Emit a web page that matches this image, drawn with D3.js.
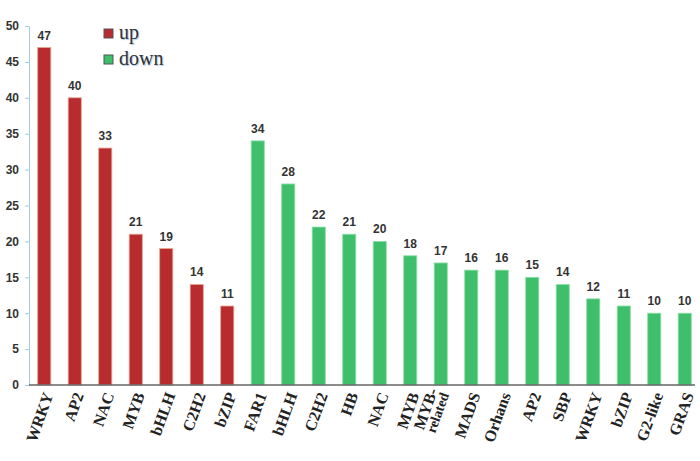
<!DOCTYPE html>
<meta charset="utf-8">
<head>
<script src="https://d3js.org/d3.v7.min.js"></script>
<style>
  body { margin: 0; background: #fff; }
</style>
</head>
<body>
<div id="tf_graph"></div>
<script>
// data
var upNames = ["WRKY", "AP2", "NAC", "MYB", "bHLH", "C2H2", "bZIP"];
var upValues = [47, 40, 33, 21, 19, 14, 11];
var downNames = ["FAR1", "bHLH", "C2H2", "HB", "NAC", "MYB", "MYB-related", "MADS", "Orhans", "AP2", "SBP", "WRKY", "bZIP", "G2-like", "GRAS"];
var downValues = [34, 28, 22, 21, 20, 18, 17, 16, 16, 15, 14, 12, 11, 10, 10];
var yTicks = [0, 5, 10, 15, 20, 25, 30, 35, 40, 45, 50];

var colors = {up: "#b82c2f", down: "#3fbf6c"};

var data = upNames.map(function(n, i) { return {id: "u" + i, name: n, value: upValues[i], group: "up"}; })
  .concat(downNames.map(function(n, i) { return {id: "d" + i, name: n, value: downValues[i], group: "down"}; }));

var width = 700, height = 461;

var svg = d3.select("#tf_graph")
  .append("svg")
    .attr("width", width)
    .attr("height", height);

var x = d3.scaleBand()
  .domain(data.map(function(d) { return d.id; }))
  .range([29, 700])
  .paddingInner(0.57)
  .paddingOuter(0.285);

var y = d3.scaleLinear()
  .domain([0, 50])
  .range([385, 26]);

// Y axis
var yAxis = svg.append("g")
  .attr("transform", "translate(29,0)")
  .call(d3.axisLeft(y).tickValues(yTicks).tickSize(4).tickSizeOuter(0));
yAxis.select(".domain").attr("stroke", "#a9c8e6");
yAxis.selectAll(".tick line").attr("stroke", "#a9c8e6");
yAxis.selectAll("text")
  .attr("x", -10)
  .style("font-family", "Arial, 'Liberation Sans', sans-serif")
  .style("font-weight", "bold")
  .style("font-size", "12px")
  .attr("fill", "#333");

// Bars
svg.selectAll(".bar")
  .data(data)
  .enter()
  .append("rect")
    .attr("x", function(d) { return x(d.id); })
    .attr("y", function(d) { return y(d.value); })
    .attr("width", x.bandwidth())
    .attr("height", function(d) { return y(0) - y(d.value); })
    .attr("fill", function(d) { return colors[d.group]; })
    .attr("stroke", function(d) { return d.group == "up" ? "#eaa58c" : "#8fe0a8"; })
    .attr("stroke-width", 0.8);

// value labels
svg.selectAll(".val")
  .data(data)
  .enter()
  .append("text")
    .attr("x", function(d) { return x(d.id) + x.bandwidth() / 2; })
    .attr("y", function(d) { return y(d.value) - 8; })
    .attr("text-anchor", "middle")
    .style("font-family", "Arial, 'Liberation Sans', sans-serif")
    .style("font-weight", "bold")
    .style("font-size", "12px")
    .attr("fill", "#333")
    .text(function(d) { return d.value; });

// X baseline
svg.append("line")
  .attr("x1", 29).attr("x2", 695)
  .attr("y1", y(0)).attr("y2", y(0))
  .attr("stroke", "#666")
  .attr("stroke-width", 1.5);

// X labels, rotated
var xl = svg.selectAll(".xl")
  .data(data)
  .enter()
  .append("text")
    .attr("transform", function(d) {
      return "translate(" + (x(d.id) + x.bandwidth() / 2 + 4) + "," + (y(0) + 8) + ")rotate(-70)";
    })
    .attr("text-anchor", "end")
    .style("font-family", "'Liberation Serif', 'Times New Roman', serif")
    .style("font-weight", "bold")
    .style("font-size", "16px")
    .attr("fill", "#222");
xl.each(function(d) {
  var t = d3.select(this);
  if (d.name == "MYB-related") {
    t.append("tspan").attr("x", 0).attr("dy", "-0.45em").text("MYB-");
    t.append("tspan").attr("x", 0).attr("dy", "0.85em").style("font-size", "14px").text("related");
  } else {
    t.attr("dy", "0.35em").text(d.name);
  }
});

// legend
var legend = svg.append("g");
[["up", 33], ["down", 59]].forEach(function(l) {
  legend.append("rect")
    .attr("x", 104).attr("y", l[1] - 4)
    .attr("width", 9).attr("height", 9)
    .attr("fill", colors[l[0]])
    .attr("stroke", "#555")
    .attr("stroke-width", 1);
  legend.append("text")
    .attr("x", 119).attr("y", l[1] + 6)
    .style("font-family", "'Liberation Serif', 'Times New Roman', serif")
    .style("font-size", "20px")
    .attr("fill", "#333")
    .style("text-shadow", "1px 1px 1px #a9c8e6")
    .text(l[0]);
});
</script>
</body>
